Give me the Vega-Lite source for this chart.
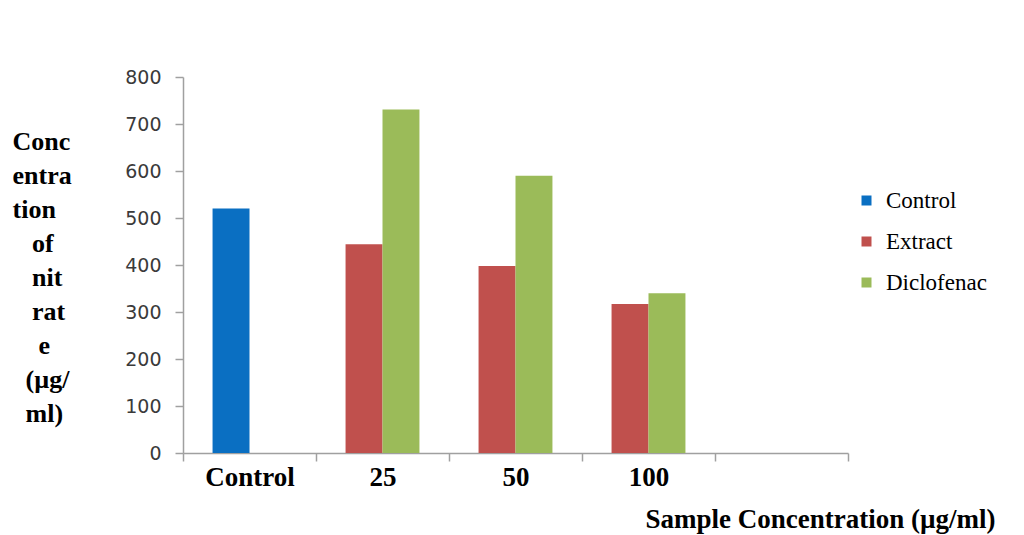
{
  "$schema": "https://vega.github.io/schema/vega-lite/v6.json",
  "autosize": "none",
  "width": 665,
  "height": 376,
  "padding": {"left": 183, "top": 77, "right": 176, "bottom": 82},
  "background": "white",
  "config": {"view": {"stroke": null}},
  "data": {
    "values": [
      {"group": "Control", "series": "Control", "slot": "a", "nitrate": 520},
      {"group": "25", "series": "Extract", "slot": "a", "nitrate": 444},
      {"group": "25", "series": "Diclofenac", "slot": "b", "nitrate": 731},
      {"group": "50", "series": "Extract", "slot": "a", "nitrate": 398},
      {"group": "50", "series": "Diclofenac", "slot": "b", "nitrate": 590},
      {"group": "100", "series": "Extract", "slot": "a", "nitrate": 317},
      {"group": "100", "series": "Diclofenac", "slot": "b", "nitrate": 340}
    ]
  },
  "mark": {"type": "bar"},
  "encoding": {
    "x": {
      "field": "group",
      "type": "nominal",
      "sort": null,
      "scale": {"domain": ["Control", "25", "50", "100", " "], "paddingInner": 0, "paddingOuter": 0},
      "axis": {
        "title": "Sample Concentration (µg/ml)",
        "titleFont": "Liberation Serif",
        "titleFontSize": 27,
        "titleFontWeight": "bold",
        "titleColor": "#000000",
        "titleAlign": "right",
        "titleAnchor": null,
        "titleBaseline": "alphabetic",
        "titleX": 812,
        "titleY": 74,
        "labelAngle": 0,
        "labelFont": "Liberation Serif",
        "labelFontSize": 27,
        "labelFontWeight": "bold",
        "labelColor": "#000000",
        "labelPadding": 3,
        "tickBand": "extent",
        "tickSize": 8,
        "tickColor": "#a0a0a0",
        "tickWidth": 1.5,
        "domainColor": "#a0a0a0",
        "domainWidth": 1.5
      }
    },
    "xOffset": {
      "field": "slot",
      "type": "nominal",
      "scale": {"domain": ["a", "b"], "paddingInner": 0, "paddingOuter": 0.8}
    },
    "y": {
      "field": "nitrate",
      "type": "quantitative",
      "scale": {"domain": [0, 800], "nice": false},
      "axis": {
        "values": [0, 100, 200, 300, 400, 500, 600, 700, 800],
        "grid": false,
        "title": ["Conc", "entra", "tion", "\u200b\u2002\u2005of", "\u200b\u2002\u2005nit", "\u200b\u2002\u2005rat", "\u200b\u2002\u2002e", "\u200b\u2002(µg/", "\u200b\u2002ml)"],
        "titleFont": "Liberation Serif",
        "titleFontSize": 26,
        "titleFontWeight": "bold",
        "titleColor": "#000000",
        "titleAngle": 0,
        "titleAlign": "left",
        "titleAnchor": null,
        "titleBaseline": "top",
        "titleLineHeight": 34,
        "titleX": -171,
        "titleY": 51,
        "labelFont": "DejaVu Sans",
        "labelFontSize": 19,
        "labelColor": "#3a3a3a",
        "labelPadding": 14,
        "tickSize": 8,
        "tickColor": "#a0a0a0",
        "tickWidth": 1.5,
        "domainColor": "#a0a0a0",
        "domainWidth": 1.5
      }
    },
    "color": {
      "field": "series",
      "type": "nominal",
      "scale": {"domain": ["Control", "Extract", "Diclofenac"], "range": ["#0a6fc2", "#c0504d", "#9bbb59"]},
      "legend": {
        "title": null,
        "orient": "none",
        "legendX": 672,
        "legendY": 112,
        "symbolType": "square",
        "symbolSize": 100,
        "symbolStrokeWidth": 0,
        "labelFont": "Liberation Serif",
        "labelFontSize": 23,
        "labelColor": "#000000",
        "labelOffset": 8,
        "rowPadding": 17
      }
    }
  }
}
